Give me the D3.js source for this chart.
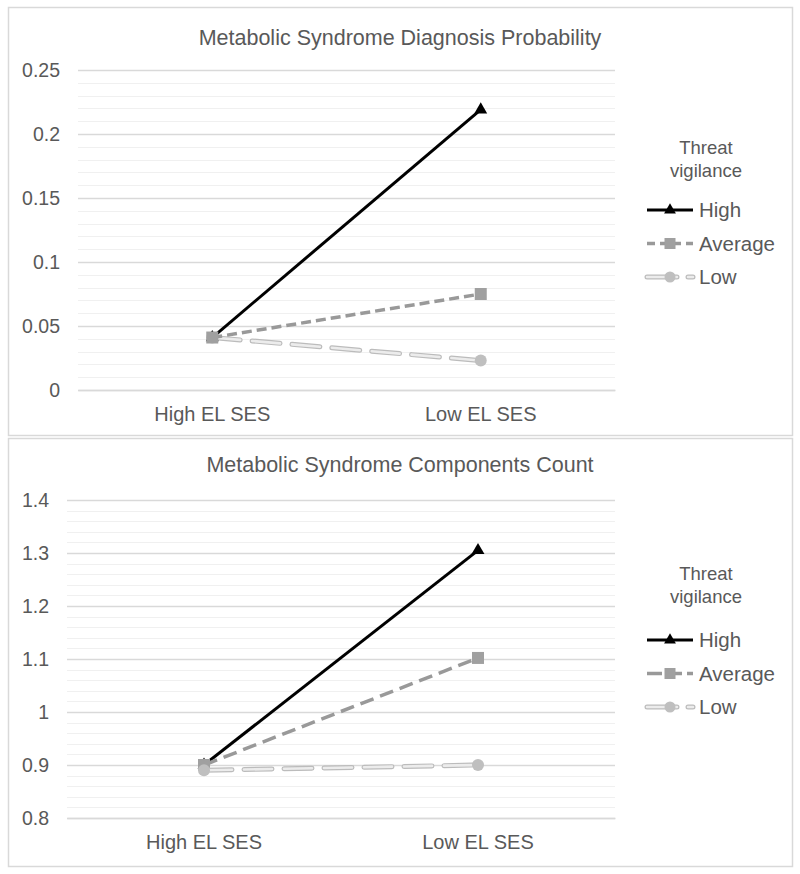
<!DOCTYPE html>
<html><head><meta charset="utf-8">
<script src="https://cdn.jsdelivr.net/npm/d3@7"></script>
<style>body{margin:0;background:#fff}svg{display:block}text{font-family:"Liberation Sans",Arial,sans-serif;fill:#595959}</style>
</head><body>
<svg id="c" width="800" height="874"></svg>
<script>
const categories = ["High EL SES", "Low EL SES"];
const seriesNames = ["High", "Average", "Low"];
const legendTitle = ["Threat", "vigilance"];

const title1 = "Metabolic Syndrome Diagnosis Probability";
const high1 = [0.041, 0.219];
const avg1 = [0.041, 0.075];
const low1 = [0.041, 0.023];
const ticks1 = [0, 0.05, 0.1, 0.15, 0.2, 0.25];

const title2 = "Metabolic Syndrome Components Count";
const high2 = [0.9, 1.305];
const avg2 = [0.9, 1.102];
const low2 = [0.89, 0.9];
const ticks2 = [0.8, 0.9, 1, 1.1, 1.2, 1.3, 1.4];

const svg = d3.select("#c");
const FONT = '"Liberation Sans",Arial,sans-serif';

const styles = {
  High: {color:"#000", width:3, dash:null, marker:"tri", mcolor:"#000"},
  Average: {color:"#999", width:3.5, dash:"10,5", marker:"sq", mcolor:"#a0a0a0"},
  Low: {color:"#bcbcbc", width:5, dash:"28,12", marker:"circ", mcolor:"#bfbfbf", double:true}
};

function panel(cfg) {
  const g = svg.append("g");
  g.append("rect").attr("x", 8.5).attr("y", cfg.top + 0.5).attr("width", 784).attr("height", cfg.h)
    .attr("fill", "#fff").attr("stroke", "#d9d9d9").attr("stroke-width", 1.5);
  g.append("text").attr("x", 400).attr("y", cfg.titleY).attr("text-anchor", "middle")
    .style("font-size", "21.5px").text(cfg.title);

  const x = d3.scaleBand().domain(categories).range([cfg.x0, cfg.x1]);
  const y = d3.scaleLinear().domain(cfg.domain).range([cfg.yBottom, cfg.yTop]);

  const minor = d3.range(cfg.domain[0], cfg.domain[1] + cfg.minorStep / 2, cfg.minorStep);
  g.append("g").selectAll("line").data(minor).join("line")
    .attr("x1", cfg.x0).attr("x2", cfg.x1)
    .attr("y1", d => Math.round(y(d)) + 0.5).attr("y2", d => Math.round(y(d)) + 0.5)
    .attr("stroke", "#f0f0f0").attr("stroke-width", 1);

  const ya = g.append("g").attr("transform", `translate(${cfg.x0},0)`)
    .call(d3.axisLeft(y).tickValues(cfg.ticks).tickSize(-(cfg.x1 - cfg.x0)).tickPadding(cfg.tickPad)
      .tickFormat(d => String(+d.toFixed(2))));
  ya.select(".domain").remove();
  ya.selectAll(".tick line").attr("stroke", "#d9d9d9").attr("stroke-width", 1.3);
  ya.selectAll(".tick text").style("font-size", "19.5px").attr("fill", "#595959").style("font-family", FONT);

  const xa = g.append("g").attr("transform", `translate(0,${cfg.yBottom})`)
    .call(d3.axisBottom(x).tickSize(0).tickPadding(17));
  xa.select(".domain").attr("stroke", "#d9d9d9").attr("stroke-width", 1.3);
  xa.selectAll(".tick text").style("font-size", "20px").attr("fill", "#595959").style("font-family", FONT);

  const cx = c => x(c) + x.bandwidth() / 2;
  const line = d3.line().x((d, i) => cx(categories[i])).y(d => y(d));

  function drawMarker(sel, s, px, py, size) {
    if (s.marker === "tri") {
      sel.append("path").attr("d", d3.symbol(d3.symbolTriangle, size * size * 0.5)())
        .attr("transform", `translate(${px},${py})`).attr("fill", s.mcolor);
    } else if (s.marker === "sq") {
      sel.append("rect").attr("x", px - size / 2).attr("y", py - size / 2).attr("width", size).attr("height", size)
        .attr("fill", s.mcolor);
    } else {
      sel.append("circle").attr("cx", px).attr("cy", py).attr("r", size / 2).attr("fill", s.mcolor);
    }
  }

  cfg.order.forEach(name => {
    const s = styles[name];
    const vals = cfg.data[name];
    const dash = name === "Average" ? cfg.avgDash : s.dash;
    g.append("path").attr("d", line(vals)).attr("fill", "none").attr("stroke", s.color)
      .attr("stroke-width", s.width).attr("stroke-dasharray", dash).attr("stroke-linecap", s.double ? "round" : "butt");
    if (s.double) {
      g.append("path").attr("d", line(vals)).attr("fill", "none").attr("stroke", "#ececec")
        .attr("stroke-width", 2.6).attr("stroke-dasharray", dash).attr("stroke-linecap", "round");
    }
    vals.forEach((v, i) => drawMarker(g, s, cx(categories[i]), y(v), 12));
  });

  // legend
  const lg = g.append("g");
  legendTitle.forEach((t, i) => lg.append("text").attr("x", cfg.legX + 61).attr("y", cfg.legTitleY + i * 22.5)
    .attr("text-anchor", "middle").style("font-size", "18.5px").attr("fill", "#404040").text(t));
  seriesNames.forEach((name, i) => {
    const s = styles[name];
    const ly = cfg.legItemY + i * 33.5;
    const lx0 = cfg.legX, lx1 = cfg.legX + 50, mid = cfg.legX + 25;
    let dash = null;
    if (name === "Average") dash = cfg.legAvgDash;
    if (name === "Low") dash = "30,11,7,60";
    const cap = s.double ? "round" : "butt";
    lg.append("line").attr("x1", lx0 + 2).attr("x2", lx1 - 2).attr("y1", ly).attr("y2", ly)
      .attr("stroke", s.color).attr("stroke-width", s.width).attr("stroke-dasharray", dash).attr("stroke-linecap", cap);
    if (s.double) lg.append("line").attr("x1", lx0 + 2).attr("x2", lx1 - 2).attr("y1", ly).attr("y2", ly)
      .attr("stroke", "#ececec").attr("stroke-width", 2.6).attr("stroke-dasharray", dash).attr("stroke-linecap", cap);
    drawMarker(lg, s, mid, ly, 11);
    lg.append("text").attr("x", lx1 + 4).attr("y", ly).attr("dy", "0.35em")
      .style("font-size", "20.5px").text(name);
  });
}

panel({top: 7, h: 428, title: title1, titleY: 45, domain: [0, 0.25], ticks: ticks1, minorStep: 0.01,
  yTop: 70, yBottom: 390, x0: 78, x1: 615, tickPad: 18, avgDash: "10,5", legAvgDash: "8,5",
  data: {High: high1, Average: avg1, Low: low1}, order: ["Low", "High", "Average"],
  legX: 645, legTitleY: 154, legItemY: 210});

panel({top: 438, h: 428, title: title2, titleY: 472, domain: [0.8, 1.4], ticks: ticks2, minorStep: 0.02,
  yTop: 500, yBottom: 818, x0: 67, x1: 615, tickPad: 18, avgDash: "14,7", legAvgDash: "15,5",
  data: {High: high2, Average: avg2, Low: low2}, order: ["High", "Average", "Low"],
  legX: 645, legTitleY: 580, legItemY: 640});
</script>
</body></html>
